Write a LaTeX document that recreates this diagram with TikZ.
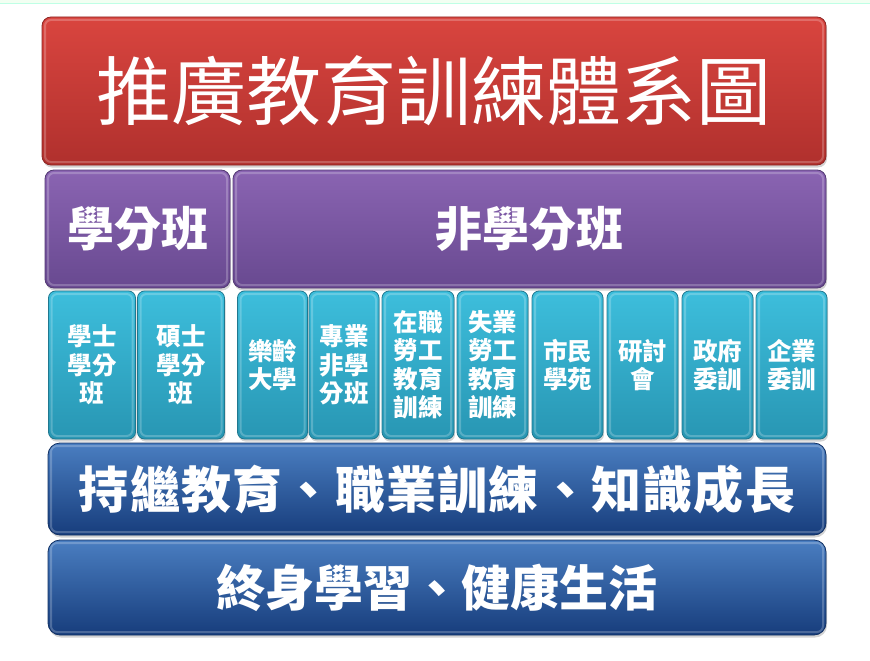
\documentclass[tikz,border=0pt]{standalone}
\usepackage{fontspec}
\setmainfont{Noto Sans CJK TC}
\usetikzlibrary{shadows}
\definecolor{redtop}{HTML}{D9453F}
\definecolor{redbot}{HTML}{B0302D}
\definecolor{purtop}{HTML}{8A64B2}
\definecolor{purbot}{HTML}{684990}
\definecolor{cyatop}{HTML}{3DBEDC}
\definecolor{cyabot}{HTML}{2896B3}
\definecolor{blutop}{HTML}{4A7EC1}
\definecolor{blubot}{HTML}{173D7C}

\begin{document}
\begin{tikzpicture}[x=1pt,y=-1pt,
    box/.style={rounded corners=9pt,draw,line width=.8pt,text=white,inner sep=0pt,
      drop shadow={shadow xshift=1pt,shadow yshift=-2.5pt,opacity=.35},
      path picture={\draw[white,opacity=.22,line width=2pt,rounded corners=6pt]
        ([shift={(3pt,-3pt)}]path picture bounding box.north west) rectangle
        ([shift={(-3pt,3pt)}]path picture bounding box.south east);}},
    redbox/.style={box,draw=redbot!80!black,top color=redtop,bottom color=redbot},
    purplebox/.style={box,draw=purbot!80!black,top color=purtop,bottom color=purbot},
    cyanbox/.style={box,rounded corners=7pt,draw=cyabot!80!black,top color=cyatop,bottom color=cyabot,
      minimum height=148pt,align=center,font=\bfseries\fontsize{24.5}{28.5}\selectfont},
    bluebox/.style={box,rounded corners=12pt,draw=blubot!80!black,top color=blutop,bottom color=blubot,
      minimum width=778pt,font=\bfseries}]

    \useasboundingbox (0,0) rectangle (870,661);
    \fill[green!5] (0,0) rectangle (870,3);
    \draw[green!40!cyan!25,line width=.8pt] (0,3) -- (870,3);

    % top row
    \node[redbox,minimum width=784pt,minimum height=148pt,font=\fontsize{75}{75}\selectfont] (title) at (434,91) {推廣教育訓練體系圖};

    % credit / non-credit
    \node[purplebox,minimum width=185pt,minimum height=118pt,font=\bfseries\fontsize{47}{47}\selectfont] (credit) at (137.5,229) {學分班};
    \node[purplebox,minimum width=593pt,minimum height=118pt,font=\bfseries\fontsize{47}{47}\selectfont] (noncredit) at (529.5,229) {非學分班};

    % programmes
    \node[cyanbox,minimum width=87pt] (bach) at (92,365) {學士\\學分\\班};
    \node[cyanbox,minimum width=87pt] (mast) at (181,365) {碩士\\學分\\班};
    \node[cyanbox,minimum width=70pt] (senior) at (272.5,365) {樂齡\\大學};
    \node[cyanbox,minimum width=70pt] (prof) at (344,365) {專業\\非學\\分班};
    \node[cyanbox,minimum width=72pt] (onjob) at (418,365) {在職\\勞工\\教育\\訓練};
    \node[cyanbox,minimum width=71pt] (unemp) at (492.5,365) {失業\\勞工\\教育\\訓練};
    \node[cyanbox,minimum width=71pt] (citizen) at (567.5,365) {市民\\學苑};
    \node[cyanbox,minimum width=71pt] (seminar) at (642.5,365) {研討\\會};
    \node[cyanbox,minimum width=71pt] (gov) at (717.5,365) {政府\\委訓};
    \node[cyanbox,minimum width=71pt] (corp) at (791.5,365) {企業\\委訓};

    % aims
    \node[bluebox,minimum height=92pt] (cont) at (437,489) {\addfontfeature{LetterSpace=2.5}\fontsize{50}{50}\selectfont 持繼教育、職業訓練、知識成長};
    \node[bluebox,minimum height=95pt,font=\bfseries\fontsize{49}{49}\selectfont] (life) at (437,587.5) {終身學習、健康生活};
\end{tikzpicture}
\end{document}
